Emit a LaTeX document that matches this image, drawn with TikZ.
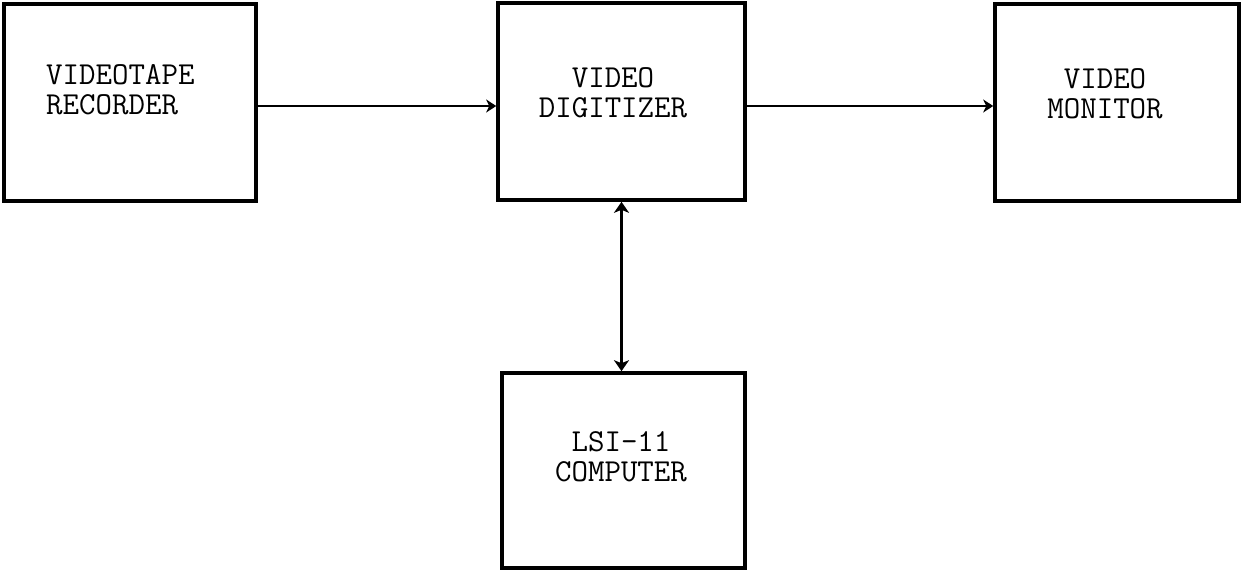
\documentclass[tikz,border=0pt]{standalone}
\usetikzlibrary{arrows.meta}
\begin{document}
\begin{tikzpicture}[x=1pt,y=-1pt,
  blk/.style={draw=black,line width=3.6pt,rectangle,inner sep=0pt},
  lbl/.style={font=\fontsize{32}{30}\selectfont\ttfamily,inner sep=0pt},
  arr/.style={line width=2.4pt,-{Stealth[length=10pt,width=13pt,inset=3pt]}},
  darr/.style={line width=3.6pt,{Stealth[length=11pt,width=15pt,inset=3pt]}-{Stealth[length=11pt,width=15pt,inset=3pt]}}]
\useasboundingbox[fill=white] (0,0) rectangle (1242,571);
% boxes
\node[blk,minimum width=252pt,minimum height=197pt] (vtr) at (130,102.5) {};
\node[blk,minimum width=247pt,minimum height=197pt] (dig) at (621.5,101.5) {};
\node[blk,minimum width=244pt,minimum height=197pt] (mon) at (1117,102.5) {};
\node[blk,minimum width=243pt,minimum height=195pt] (lsi) at (623.5,470.5) {};
% labels
\node[lbl,align=left,anchor=west] (vtrt) at (46,90) {VIDEOTAPE\\RECORDER};
\node[lbl,align=center] (digt) at (613,92.5) {VIDEO\\DIGITIZER};
\node[lbl,align=center] (mont) at (1105,94) {VIDEO\\MONITOR};
\node[lbl,align=center] (lsit) at (621,456.5) {LSI-11\\COMPUTER};
% connectors
\draw[arr] ([yshift=-3.5pt]vtr.east) -- ([yshift=-3.5pt]vtr.east -| dig.west);
\draw[arr] ([yshift=-4.5pt]dig.east) -- ([yshift=-4.5pt]dig.east -| mon.west);
\draw[darr] (dig.south) -- (dig.south |- lsi.north);
\end{tikzpicture}
\end{document}
